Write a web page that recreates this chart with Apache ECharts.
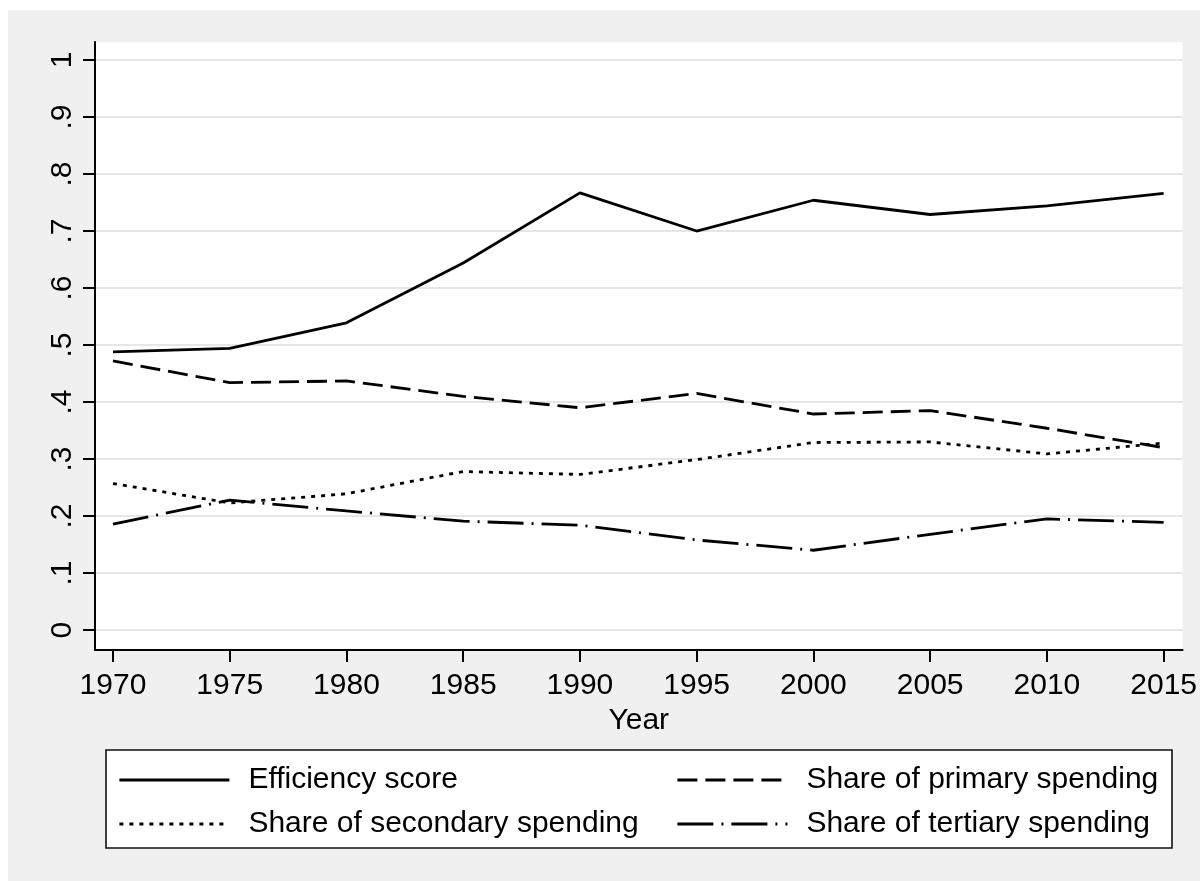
<!DOCTYPE html>
<html>
<head>
<meta charset="utf-8">
<title>Efficiency score and spending shares</title>
<script src="https://cdn.jsdelivr.net/npm/echarts@6/dist/echarts.min.js"></script>
<style>
  html, body { margin: 0; padding: 0; background: #ffffff; }
  #chart { width: 1200px; height: 881px; }
</style>
</head>
<body>
<div id="chart"></div>
<script>
// Years on the horizontal axis
const years = [1970, 1975, 1980, 1985, 1990, 1995, 2000, 2005, 2010, 2015];

// Series values, one per year
const efficiencyScore = [0.488, 0.494, 0.539, 0.644, 0.767, 0.700, 0.754, 0.729, 0.744, 0.766];
const primaryShare    = [0.472, 0.434, 0.437, 0.410, 0.390, 0.415, 0.379, 0.385, 0.354, 0.320];
const secondaryShare  = [0.257, 0.223, 0.239, 0.278, 0.273, 0.299, 0.329, 0.330, 0.309, 0.328];
const tertiaryShare   = [0.186, 0.228, 0.209, 0.191, 0.184, 0.158, 0.140, 0.168, 0.195, 0.189];

// Tick positions
const xTicks = [1970, 1975, 1980, 1985, 1990, 1995, 2000, 2005, 2010, 2015];
const yTicks = [0, 0.1, 0.2, 0.3, 0.4, 0.5, 0.6, 0.7, 0.8, 0.9, 1];

const seriesNames = {
  eff: 'Efficiency score',
  pri: 'Share of primary spending',
  sec: 'Share of secondary spending',
  ter: 'Share of tertiary spending'
};

const FONT = '"Liberation Sans", Arial, Helvetica, sans-serif';
const LINE_W = 2.8;

function pairs(values) {
  return years.map((y, i) => [y, values[i]]);
}

function yLabel(v) {
  if (Math.abs(v) < 1e-9) return '0';
  if (Math.abs(v - 1) < 1e-9) return '1';
  return '.' + Math.round(v * 10);
}

const chart = echarts.init(document.getElementById('chart'), null, { renderer: 'canvas' });

// Legend keys show only the line pattern, no marker
const legendCommon = {
  orient: 'vertical',
  padding: 0,
  itemWidth: 110,
  itemHeight: 14,
  itemGap: 14,
  selectedMode: false,
  itemStyle: { color: 'rgba(0,0,0,0)', borderWidth: 0, opacity: 0 },
  lineStyle: { width: LINE_W },
  textStyle: {
    color: '#000',
    fontFamily: FONT,
    fontSize: 30,
    lineHeight: 30,
    padding: [0, 0, 0, 14]
  }
};

const option = {
  backgroundColor: '#ffffff',
  animation: false,
  textStyle: { fontFamily: FONT },
  graphic: [
    {
      type: 'rect',
      z: -10,
      silent: true,
      shape: { x: 8, y: 10, width: 1192, height: 871 },
      style: { fill: '#f0f0f0' }
    },
    {
      type: 'rect',
      z: -5,
      silent: true,
      shape: { x: 106, y: 750, width: 1066, height: 98 },
      style: { fill: '#ffffff', stroke: '#111', lineWidth: 1.6 }
    }
  ],
  grid: {
    left: 95,
    right: 17,
    top: 42,
    bottom: 231,
    show: true,
    backgroundColor: '#ffffff',
    borderWidth: 0
  },
  legend: [
    Object.assign({}, legendCommon, {
      left: 118,
      top: 765,
      data: [seriesNames.eff, seriesNames.sec]
    }),
    Object.assign({}, legendCommon, {
      left: 676,
      top: 765,
      data: [seriesNames.pri, seriesNames.ter]
    })
  ],
  xAxis: {
    type: 'value',
    min: 1969.23,
    max: 2015.81,
    name: 'Year',
    nameLocation: 'middle',
    nameGap: 51,
    nameTextStyle: { color: '#000', fontSize: 30, fontFamily: FONT },
    axisLine: { show: true, onZero: false, lineStyle: { color: '#000', width: 2 } },
    axisTick: { show: true, length: 12, customValues: xTicks, lineStyle: { color: '#000', width: 2 } },
    axisLabel: {
      customValues: xTicks,
      color: '#000',
      fontSize: 30,
      fontFamily: FONT,
      margin: 21,
      formatter: v => String(Math.round(v))
    },
    splitLine: { show: false }
  },
  yAxis: {
    type: 'value',
    min: -0.035,
    max: 1.0316,
    axisLine: { show: true, onZero: false, lineStyle: { color: '#000', width: 2 } },
    axisTick: { show: true, length: 12, customValues: yTicks, lineStyle: { color: '#000', width: 2 } },
    axisLabel: {
      customValues: yTicks,
      rotate: 90,
      color: '#000',
      fontSize: 30,
      fontFamily: FONT,
      margin: 17,
      formatter: yLabel
    },
    splitLine: { show: true, lineStyle: { color: '#e6e6e6', width: 2 } }
  },
  series: [
    {
      name: seriesNames.eff,
      type: 'line',
      data: pairs(efficiencyScore),
      symbol: 'none',
      lineStyle: { color: '#000', width: LINE_W, type: 'solid' },
      itemStyle: { color: '#000' }
    },
    {
      name: seriesNames.pri,
      type: 'line',
      data: pairs(primaryShare),
      symbol: 'none',
      lineStyle: { color: '#000', width: LINE_W, type: [20, 8] },
      itemStyle: { color: '#000' }
    },
    {
      name: seriesNames.sec,
      type: 'line',
      data: pairs(secondaryShare),
      symbol: 'none',
      lineStyle: { color: '#000', width: LINE_W, type: [4, 6] },
      itemStyle: { color: '#000' }
    },
    {
      name: seriesNames.ter,
      type: 'line',
      data: pairs(tertiaryShare),
      symbol: 'none',
      lineStyle: { color: '#000', width: LINE_W, type: [36, 8, 2, 8] },
      itemStyle: { color: '#000' }
    }
  ]
};

chart.setOption(option);
</script>
</body>
</html>
